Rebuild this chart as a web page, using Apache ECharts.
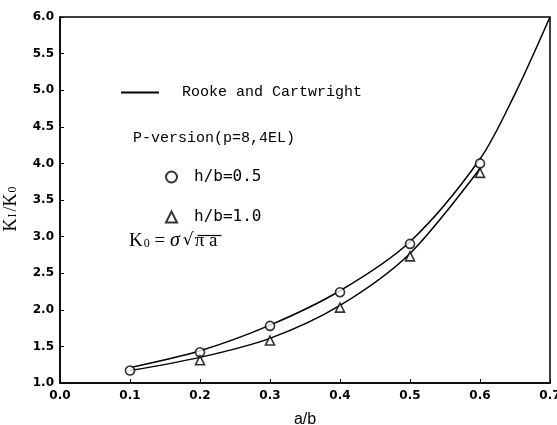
<!DOCTYPE html>
<html>
<head>
<meta charset="utf-8">
<script src="https://cdn.jsdelivr.net/npm/echarts@6/dist/echarts.min.js"></script>
<style>
  html, body { margin: 0; padding: 0; background: #fff; }
  #chart { width: 557px; height: 425px; }
</style>
</head>
<body>
<div id="chart"></div>
<script>
// values
var xTicks = [0.0, 0.1, 0.2, 0.3, 0.4, 0.5, 0.6, 0.7];
var yTicks = [1.0, 1.5, 2.0, 2.5, 3.0, 3.5, 4.0, 4.5, 5.0, 5.5, 6.0];

// Rooke and Cartwright curves
var rookeUpperX = [0.1, 0.2, 0.3, 0.4, 0.5, 0.6, 0.65, 0.7];
var rookeUpperY = [1.21, 1.44, 1.79, 2.26, 2.93, 4.06, 4.95, 6.0];
var rookeLowerX = [0.1, 0.2, 0.3, 0.4, 0.5, 0.6];
var rookeLowerY = [1.17, 1.35, 1.61, 2.06, 2.77, 3.93];

// P-version results
var circleX = [0.1, 0.2, 0.3, 0.4, 0.5, 0.6];
var circleY = [1.17, 1.42, 1.78, 2.24, 2.90, 4.00];
var triangleX = [0.2, 0.3, 0.4, 0.5, 0.6];
var triangleY = [1.31, 1.58, 2.03, 2.73, 3.87];

function pairs(xs, ys) {
    return xs.map(function (x, i) { return [x, ys[i]]; });
}

var tickFont = { color: '#000', fontFamily: 'DejaVu Sans', fontWeight: 'bold', fontSize: 12 };

var chart = echarts.init(document.getElementById('chart'));
var option = {
    animation: false,
    backgroundColor: '#fff',
    grid: {
        left: 60, right: 7, top: 17, bottom: 42,
        outerBoundsMode: 'none',
        show: true, borderColor: '#000', borderWidth: 1.5
    },
    xAxis: {
        type: 'value',
        min: xTicks[0], max: xTicks[xTicks.length - 1], interval: 0.1,
        name: 'a/b', nameLocation: 'middle', nameGap: 29,
        nameTextStyle: { color: '#000', fontFamily: 'Liberation Sans', fontSize: 16 },
        axisLine: { show: true, lineStyle: { color: '#000', width: 1.5 } },
        axisTick: { show: true, inside: true, length: 4, lineStyle: { color: '#000' } },
        axisLabel: Object.assign({ margin: 7, formatter: function (v) { return v.toFixed(1); } }, tickFont),
        splitLine: { show: false }
    },
    yAxis: {
        type: 'value',
        min: yTicks[0], max: yTicks[yTicks.length - 1], interval: 0.5,
        name: '{k|K}{s|I}{k|/K}{s|0}', nameLocation: 'middle', nameGap: 40, nameRotate: 90,
        nameTextStyle: {
            color: '#000', padding: [0, 16, 0, 0],
            rich: {
                k: { fontFamily: 'Liberation Serif', fontSize: 18, color: '#000' },
                s: { fontFamily: 'Liberation Serif', fontSize: 12, color: '#000', padding: [4, 2, 0, 1] }
            }
        },
        axisLine: { show: true, lineStyle: { color: '#000', width: 1.5 } },
        axisTick: { show: true, inside: true, length: 4, lineStyle: { color: '#000' } },
        axisLabel: Object.assign({ margin: 6, formatter: function (v) { return v.toFixed(1); } }, tickFont),
        splitLine: { show: false }
    },
    legend: [
        {
            data: [{ name: 'Rooke and Cartwright', icon: 'rect' }],
            left: 116, top: 80, itemWidth: 38, itemHeight: 2,
            itemStyle: { color: '#000' },
            textStyle: { color: '#000', fontFamily: 'Liberation Mono', fontSize: 15, padding: [0, 0, 0, 18] }
        },
        {
            data: ['h/b=0.5'],
            left: 160, top: 164, itemWidth: 11, itemHeight: 11,
            textStyle: { color: '#000', fontFamily: 'DejaVu Sans Mono', fontSize: 16, padding: [0, 0, 0, 12] }
        },
        {
            data: ['h/b=1.0'],
            left: 160, top: 204, itemWidth: 11, itemHeight: 11,
            textStyle: { color: '#000', fontFamily: 'DejaVu Sans Mono', fontSize: 16, padding: [0, 0, 0, 12] }
        }
    ],
    graphic: [
        {
            type: 'text', left: 133, top: 131,
            style: { text: 'P-version(p=8,4EL)', fill: '#000', font: '15px "Liberation Mono"' }
        },
        {
            type: 'text', left: 129, top: 231,
            style: {
                text: '{k|K}{s|0}{k| = }{g|σ}{r|√}{p|π a}',
                rich: {
                    k: { fontFamily: 'Liberation Serif', fontSize: 19, fill: '#000' },
                    s: { fontFamily: 'Liberation Serif', fontSize: 12, fill: '#000', padding: [6, 0, 0, 1] },
                    g: { fontFamily: 'Liberation Serif', fontStyle: 'italic', fontSize: 20, fill: '#000' },
                    r: { fontFamily: 'DejaVu Serif', fontSize: 17, fill: '#000', padding: [0, 0, 0, 3] },
                    p: { fontFamily: 'Liberation Serif', fontSize: 19, fill: '#000', padding: [0, 0, 0, 1] }
                }
            }
        },
        {
            type: 'line', left: 195, top: 233,
            shape: { x1: 0, y1: 0, x2: 24, y2: 0 },
            style: { stroke: '#000', lineWidth: 1.2 }
        }
    ],
    series: [
        {
            name: 'Rooke and Cartwright',
            type: 'line', smooth: 0.3, symbol: 'none',
            lineStyle: { color: '#000', width: 1.5 },
            itemStyle: { color: '#000' },
            data: pairs(rookeUpperX, rookeUpperY)
        },
        {
            name: 'Rooke and Cartwright (h/b=1.0)',
            type: 'line', smooth: 0.3, symbol: 'none',
            lineStyle: { color: '#000', width: 1.5 },
            itemStyle: { color: '#000' },
            data: pairs(rookeLowerX, rookeLowerY)
        },
        {
            name: 'h/b=0.5',
            type: 'scatter', symbol: 'circle', symbolSize: 9, z: 5,
            itemStyle: { color: '#fff', borderColor: '#000', borderWidth: 1.6 },
            data: pairs(circleX, circleY)
        },
        {
            name: 'h/b=1.0',
            type: 'scatter', symbol: 'triangle', symbolSize: 9, z: 5,
            itemStyle: { color: '#fff', borderColor: '#000', borderWidth: 1.6 },
            data: pairs(triangleX, triangleY)
        }
    ]
};
chart.setOption(option);
</script>
</body>
</html>
